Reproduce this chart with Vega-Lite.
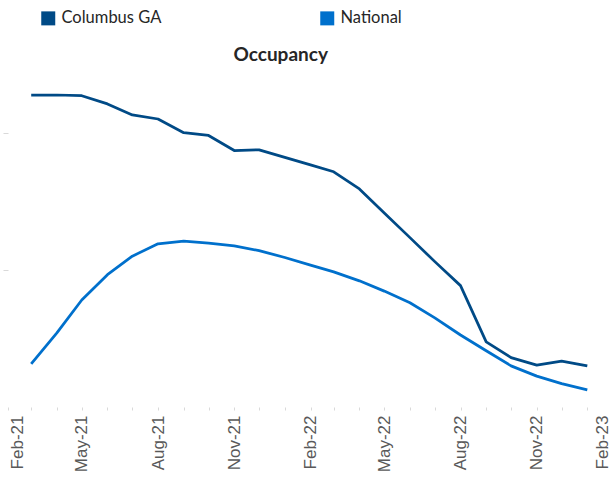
{
  "$schema": "https://vega.github.io/schema/vega-lite/v6.json",
  "width": 603,
  "height": 336,
  "autosize": {"type": "none"},
  "padding": {"left": 8, "top": 71, "right": 0, "bottom": 73},
  "background": "white",
  "config": {"view": {"stroke": null}},
  "title": {
    "text": "Occupancy",
    "font": "Lato",
    "fontSize": 19,
    "fontWeight": "bold",
    "color": "#262626",
    "anchor": "start",
    "dx": 231,
    "dy": 63,
    "offset": 8
  },
  "data": {
    "values": [
      {"month": "2021-03-01", "series": "Columbus GA", "occ": 96.55},
      {"month": "2021-04-01", "series": "Columbus GA", "occ": 96.55},
      {"month": "2021-05-01", "series": "Columbus GA", "occ": 96.54},
      {"month": "2021-06-01", "series": "Columbus GA", "occ": 96.42},
      {"month": "2021-07-01", "series": "Columbus GA", "occ": 96.26},
      {"month": "2021-08-01", "series": "Columbus GA", "occ": 96.20},
      {"month": "2021-09-01", "series": "Columbus GA", "occ": 96.00},
      {"month": "2021-10-01", "series": "Columbus GA", "occ": 95.96},
      {"month": "2021-11-01", "series": "Columbus GA", "occ": 95.74},
      {"month": "2021-12-01", "series": "Columbus GA", "occ": 95.75},
      {"month": "2022-01-01", "series": "Columbus GA", "occ": 95.64},
      {"month": "2022-02-01", "series": "Columbus GA", "occ": 95.53},
      {"month": "2022-03-01", "series": "Columbus GA", "occ": 95.43},
      {"month": "2022-04-01", "series": "Columbus GA", "occ": 95.18},
      {"month": "2022-05-01", "series": "Columbus GA", "occ": 94.83},
      {"month": "2022-06-01", "series": "Columbus GA", "occ": 94.47},
      {"month": "2022-07-01", "series": "Columbus GA", "occ": 94.12},
      {"month": "2022-08-01", "series": "Columbus GA", "occ": 93.77},
      {"month": "2022-09-01", "series": "Columbus GA", "occ": 92.95},
      {"month": "2022-10-01", "series": "Columbus GA", "occ": 92.72},
      {"month": "2022-11-01", "series": "Columbus GA", "occ": 92.61},
      {"month": "2022-12-01", "series": "Columbus GA", "occ": 92.67},
      {"month": "2023-01-01", "series": "Columbus GA", "occ": 92.60},
      {"month": "2021-03-01", "series": "National", "occ": 92.63},
      {"month": "2021-04-01", "series": "National", "occ": 93.08},
      {"month": "2021-05-01", "series": "National", "occ": 93.56},
      {"month": "2021-06-01", "series": "National", "occ": 93.93},
      {"month": "2021-07-01", "series": "National", "occ": 94.20},
      {"month": "2021-08-01", "series": "National", "occ": 94.38},
      {"month": "2021-09-01", "series": "National", "occ": 94.42},
      {"month": "2021-10-01", "series": "National", "occ": 94.39},
      {"month": "2021-11-01", "series": "National", "occ": 94.35},
      {"month": "2021-12-01", "series": "National", "occ": 94.28},
      {"month": "2022-01-01", "series": "National", "occ": 94.18},
      {"month": "2022-02-01", "series": "National", "occ": 94.07},
      {"month": "2022-03-01", "series": "National", "occ": 93.97},
      {"month": "2022-04-01", "series": "National", "occ": 93.84},
      {"month": "2022-05-01", "series": "National", "occ": 93.69},
      {"month": "2022-06-01", "series": "National", "occ": 93.52},
      {"month": "2022-07-01", "series": "National", "occ": 93.30},
      {"month": "2022-08-01", "series": "National", "occ": 93.05},
      {"month": "2022-09-01", "series": "National", "occ": 92.82},
      {"month": "2022-10-01", "series": "National", "occ": 92.60},
      {"month": "2022-11-01", "series": "National", "occ": 92.45},
      {"month": "2022-12-01", "series": "National", "occ": 92.34},
      {"month": "2023-01-01", "series": "National", "occ": 92.25}
    ]
  },
  "mark": {"type": "line", "strokeWidth": 2.75, "strokeJoin": "round"},
  "encoding": {
    "x": {
      "field": "month",
      "type": "temporal",
      "scale": {
        "type": "utc",
        "domain": [
          {"year": 2021, "month": 2, "date": 1, "utc": true},
          {"year": 2023, "month": 2, "date": 1, "utc": true}
        ],
        "range": [0, 605]
      },
      "axis": {
        "title": null,
        "domain": false,
        "grid": false,
        "ticks": true,
        "tickSize": 3,
        "tickColor": "#d9d9d9",
        "tickCount": {"interval": "month", "step": 1},
        "labelAngle": -90,
        "labelFont": "Liberation Sans",
        "labelFontSize": 17,
        "labelColor": "#595959",
        "labelPadding": 5,
        "labelOverlap": false,
        "labelBound": false,
        "labelFlush": false,
        "labelExpr": "utcmonth(datum.value) % 3 == 1 ? utcFormat(datum.value, '%b-%y') : ''",
        "labelOffset": {
          "condition": [
            {"test": "utcyear(datum.value) == 2021 && utcmonth(datum.value) == 1", "value": 9},
            {"test": "utcyear(datum.value) == 2023", "value": -11}
          ],
          "value": 0
        }
      }
    },
    "y": {
      "field": "occ",
      "type": "quantitative",
      "scale": {"domain": [92, 96.9], "nice": false, "zero": false},
      "axis": {
        "title": null,
        "labels": false,
        "domain": false,
        "grid": false,
        "ticks": true,
        "tickSize": 5,
        "tickColor": "#d9d9d9",
        "values": [94, 96]
      }
    },
    "color": {
      "field": "series",
      "type": "nominal",
      "scale": {"domain": ["Columbus GA", "National"], "range": ["#004A86", "#0070CC"]},
      "legend": {
        "title": null,
        "orient": "none",
        "legendX": 32,
        "legendY": -61,
        "direction": "horizontal",
        "symbolType": "square",
        "symbolSize": 196,
        "symbolStrokeWidth": 0,
        "symbolOpacity": 1,
        "labelFont": "Lato",
        "labelFontSize": 16.5,
        "labelColor": "#262626",
        "labelOffset": 5,
        "columnPadding": 157,
        "encode": {
          "symbols": {
            "update": {
              "fill": {"scale": "color", "field": "value"},
              "size": {"value": 196},
              "strokeWidth": {"value": 0}
            }
          }
        }
      }
    }
  }
}
